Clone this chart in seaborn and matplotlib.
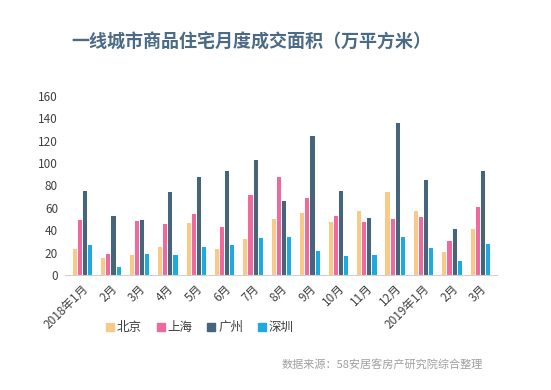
import pandas as pd
import numpy as np
import seaborn as sns
import matplotlib.pyplot as plt

# ================================
# Data (万平方米)
# ================================
months = ["2018年1月", "2月", "3月", "4月", "5月", "6月", "7月", "8月",
          "9月", "10月", "11月", "12月", "2019年1月", "2月", "3月"]
cities = ["北京", "上海", "广州", "深圳"]

beijing = [24, 16, 19, 26, 47, 24, 33, 51, 56, 48, 58, 75, 58, 21, 42]
shanghai = [50, 20, 49, 46, 55, 44, 72, 88, 70, 54, 48, 51, 53, 31, 62]
guangzhou = [76, 54, 50, 75, 88, 94, 104, 67, 125, 76, 52, 137, 86, 42, 94]
shenzhen = [28, 8, 20, 19, 26, 28, 34, 35, 22, 18, 19, 35, 25, 13, 29]

colors = ["#F9C98A", "#EE6A9E", "#46647C", "#1EA9E1"]

# build long table for seaborn
rows = []
for city, vals in zip(cities, [beijing, shanghai, guangzhou, shenzhen]):
    for i, v in enumerate(vals):
        rows.append({"pos": i, "month": months[i], "city": city, "value": v})
df = pd.DataFrame(rows)

# ================================
# Plot
# ================================
sns.set_style("white")
plt.rcParams['font.family'] = ['Noto Sans CJK SC', 'DejaVu Sans']

fig = plt.figure(figsize=(5.51, 3.90), dpi=100)
ax = fig.add_axes([0.118, 0.295, 0.784, 0.459])

sns.barplot(data=df, x="pos", y="value", hue="city", hue_order=cities,
            palette=colors, width=0.72, edgecolor="white", linewidth=0.7,
            saturation=1, ax=ax, legend=False)

ax.set_ylim(0, 160)
ax.set_yticks(np.arange(0, 161, 20))
ax.set_xlim(-0.6, len(months) - 0.4)
ax.set_xticks(range(len(months)))
ax.set_xticklabels(months, rotation=45, ha="right", rotation_mode="anchor")
ax.tick_params(axis="both", length=0, labelsize=8.5, colors="#404040", pad=5)
ax.set_xlabel("")
ax.set_ylabel("")

for s in ["top", "right", "left"]:
    ax.spines[s].set_visible(False)
ax.spines["bottom"].set_color("#d0d0d0")
ax.spines["bottom"].set_linewidth(0.8)

# legend with square markers
handles = [plt.Line2D([], [], marker="s", linestyle="", markersize=6,
                      color=c) for c in colors]
fig.legend(handles, cities, loc="center", bbox_to_anchor=(0.361, 0.16),
           ncol=4, frameon=False, fontsize=9, handletextpad=0.05,
           columnspacing=1.0, labelcolor="#404040", handlelength=1.0)

fig.text(0.456, 0.893, "一线城市商品住宅月度成交面积（万平方米）", ha="center",
         va="center", fontsize=13, fontweight="bold", color="#4A6A85")
fig.text(0.877, 0.065, "数据来源：58安居客房产研究院综合整理", ha="right",
         va="center", fontsize=8, color="#A0A0A0")

plt.savefig("out.png", dpi=100)
